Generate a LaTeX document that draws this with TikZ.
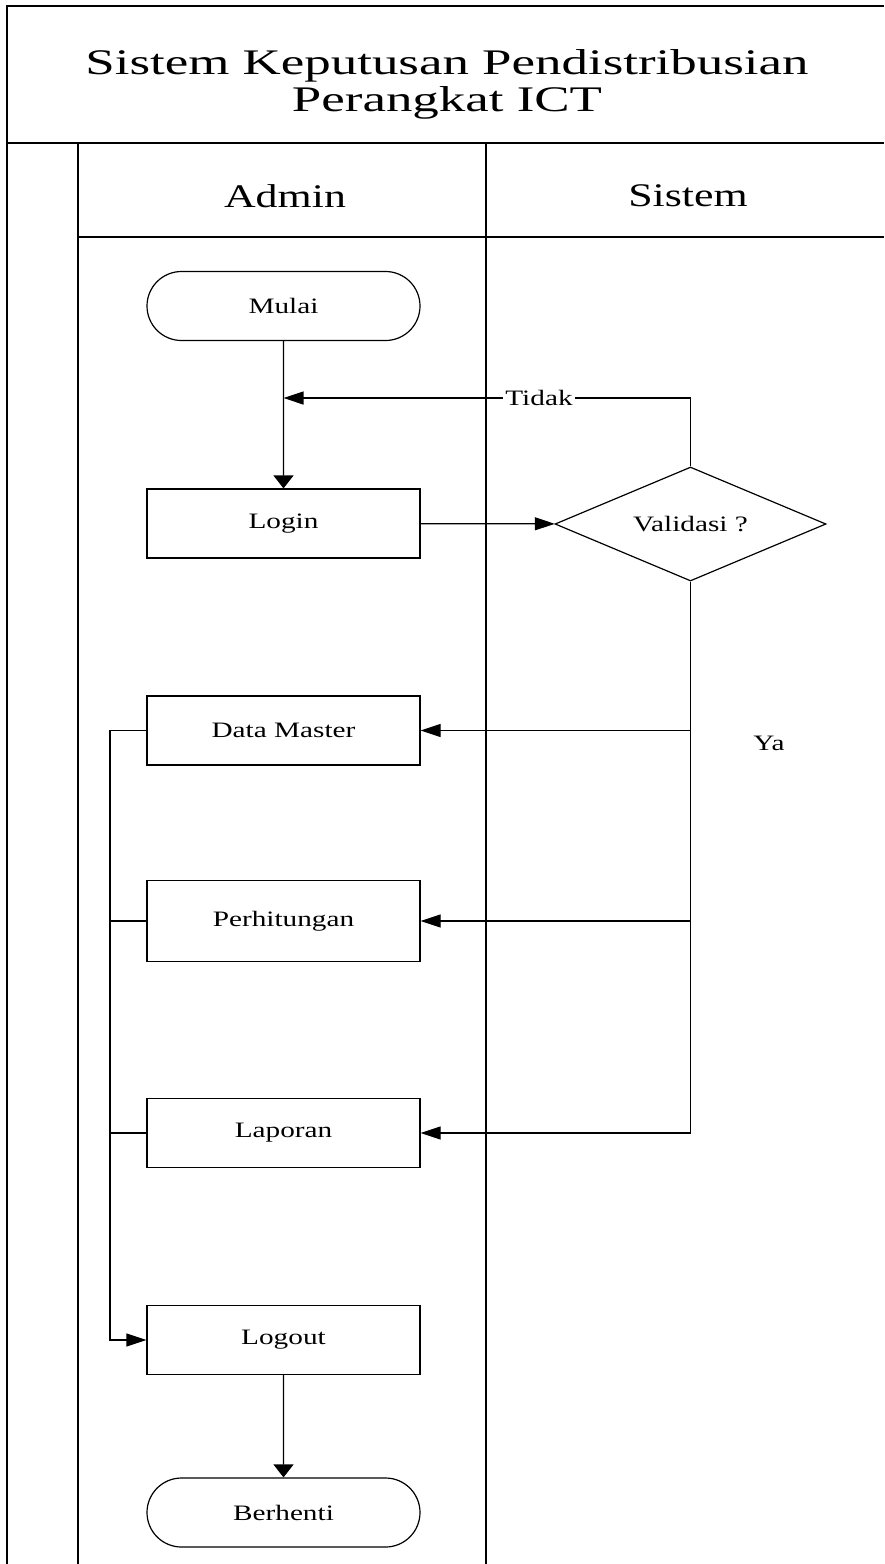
\documentclass[tikz,border=0pt]{standalone}
\usepackage{fontspec}
\setmainfont{Liberation Serif}[FakeStretch=1.33]
\newfontfamily\titleFont{Liberation Serif}[FakeStretch=1.47]
\usetikzlibrary{arrows.meta,shapes.geometric,shapes.misc}

\def \boxWidth {136.5pt}
\def \boxHeight {34.5pt}
\def \lineWidth {0.6pt}

\tikzset{
   flowText/.style={font=\fontsize{11}{13}\selectfont, inner sep=1pt},
   terminal/.style={draw, rounded rectangle, minimum width=\boxWidth, minimum height=\boxHeight, inner sep=0pt, font=\fontsize{11}{13}\selectfont},
   process/.style={draw, rectangle, minimum width=\boxWidth, minimum height=\boxHeight, inner sep=0pt, font=\fontsize{11}{13}\selectfont},
   decision/.style={draw, diamond, aspect=2.4, minimum width=135.5pt, minimum height=57pt, inner sep=0pt, font=\fontsize{11}{13}\selectfont},
   laneText/.style={font=\fontsize{16.5}{18}\selectfont},
   hArrow/.style={-{Triangle[length=10pt,width=6.5pt]}},
   vArrow/.style={-{Triangle[length=6.5pt,width=10pt]}}
}

\begin{document}
\begin{tikzpicture}[x=0.5pt, y=-0.5pt, line width=\lineWidth]
         \useasboundingbox (0,0) rectangle (884,1564);
         \draw (7,1564) -- (7,6) -- (884,6);
         \draw[line width=1pt] (7,143) -- (884,143);
         \draw (78,143) -- (78,1564);
         \draw (486,143) -- (486,1564);
         \draw (78,237) -- (884,237);
         \node[font=\titleFont\fontsize{18}{18.5}\selectfont, align=center] (judul) at (447,84) {Sistem Keputusan Pendistribusian\\Perangkat ICT};
         \node[laneText] (admin) at (285,196) {Admin};
         \node[laneText] (sistem) at (688,196) {Sistem};

         \node[terminal] (mulai) at (283.5,306) {Mulai};
         \node[process] (login) at (283.5,523.5) {Login};
         \node[decision] (validasi) at (690.5,524) {Validasi ?};
         \node[process] (dataMaster) at (283.5,730.5) {Data Master};
         \node[process, minimum height=40.5pt] (perhitungan) at (283.5,921) {Perhitungan};
         \node[process] (laporan) at (283.5,1133) {Laporan};
         \node[process] (logout) at (283.5,1340) {Logout};
         \node[terminal] (berhenti) at (283.5,1512.5) {Berhenti};

         \draw[vArrow] (mulai) -- (login);
         \draw[hArrow] (login) -- (validasi);
         \coordinate (tidakJoin) at (283.5,398);
         \draw[hArrow] (validasi.north) |- (tidakJoin);
         \node[flowText, fill=white] (tidak) at (539,398) {Tidak};
         \draw[hArrow] (validasi.south) |- (laporan.east);
         \draw[hArrow] (validasi.south |- dataMaster.east) -- (dataMaster.east);
         \draw[hArrow] (validasi.south |- perhitungan.east) -- (perhitungan.east);
         \node[flowText] (ya) at (769,743) {Ya};
         \coordinate (leftBus) at (110,730.5);
         \draw[hArrow] (dataMaster.west) -- (leftBus) |- (logout.west);
         \draw (perhitungan.west) -- (perhitungan.west -| leftBus);
         \draw (laporan.west) -- (laporan.west -| leftBus);
         \draw[vArrow] (logout) -- (berhenti);
\end{tikzpicture}
\end{document}
